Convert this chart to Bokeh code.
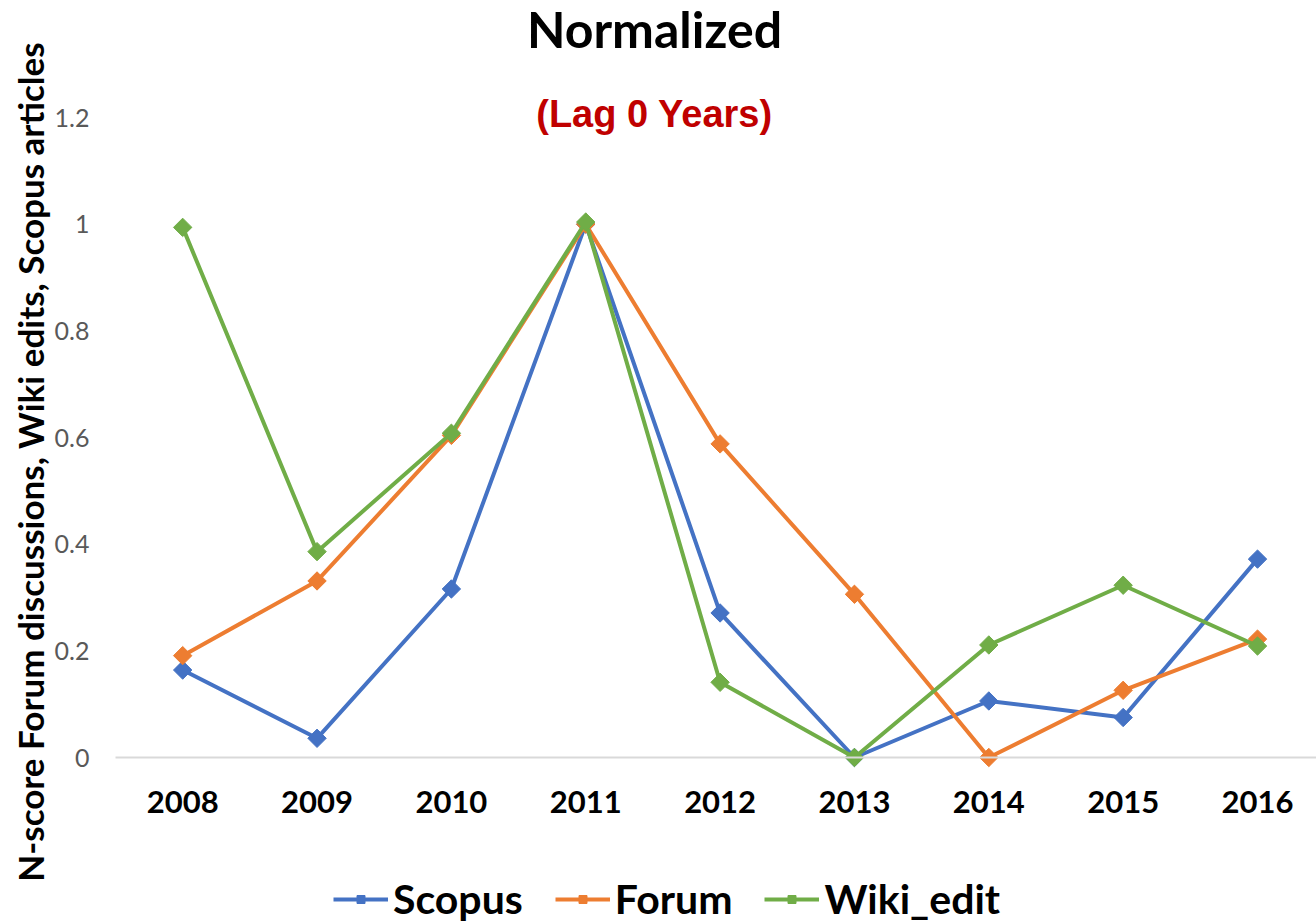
import math
from bokeh.plotting import figure
from bokeh.models import (FixedTicker, Label, Legend, LegendItem, Range1d)
from bokeh.embed import file_html
from bokeh.resources import INLINE

years = [2008, 2009, 2010, 2011, 2012, 2013, 2014, 2015, 2016]
scopus = [0.164, 0.036, 0.316, 1.0, 0.271, 0.0, 0.106, 0.075, 0.372]
forum = [0.191, 0.331, 0.604, 1.0, 0.588, 0.306, 0.0, 0.126, 0.222]
wiki_edit = [0.994, 0.386, 0.608, 1.004, 0.141, 0.0, 0.211, 0.323, 0.209]

series_names = ["Scopus", "Forum", "Wiki_edit"]
series_colors = ["#4472C4", "#ED7D31", "#70AD47"]

y_ticks = [0, 0.2, 0.4, 0.6, 0.8, 1, 1.2]
y_tick_labels = ["0", "0.2", "0.4", "0.6", "0.8", "1", "1.2"]

title_text = "Normalized"
subtitle_text = "(Lag 0 Years)"
y_label_text = "N-score Forum discussions, Wiki edits, Scopus articles"

# plot-area edge in data units (left edge of the category band of 2008)
x_left = 2007.5

p = figure(width=1316, height=923, output_backend="svg", toolbar_location=None,
           x_range=Range1d(2006.644, 2016.439), y_range=Range1d(-0.31125, 1.4194),
           min_border_left=0, min_border_right=0, min_border_top=0,
           min_border_bottom=0)
p.title = None
p.outline_line_color = None
p.xgrid.grid_line_color = None
p.ygrid.grid_line_color = None
p.background_fill_color = "white"
p.border_fill_color = "white"

# x axis drawn on the zero line
p.xaxis.fixed_location = 0
p.xaxis.bounds = (x_left, 2016.439)
p.xaxis.ticker = FixedTicker(ticks=years)
p.xaxis.axis_line_color = "#D9D9D9"
p.xaxis.axis_line_width = 2
p.xaxis.major_tick_line_color = None
p.xaxis.minor_tick_line_color = None
p.xaxis.major_tick_out = 0
p.xaxis.major_tick_in = 0
p.xaxis.major_label_text_font = "Lato"
p.xaxis.major_label_text_font_style = "bold"
p.xaxis.major_label_text_font_size = "31px"
p.xaxis.major_label_text_color = "black"
p.xaxis.major_label_standoff = 33

# y axis at the left edge of the plot area
p.yaxis.fixed_location = x_left
p.yaxis.ticker = FixedTicker(ticks=y_ticks)
p.yaxis.major_label_overrides = {t: l for t, l in zip(y_ticks, y_tick_labels)}
p.yaxis.axis_line_color = None
p.yaxis.major_tick_line_color = None
p.yaxis.minor_tick_line_color = None
p.yaxis.major_tick_out = 0
p.yaxis.major_tick_in = 0
p.yaxis.major_label_text_font = "Lato"
p.yaxis.major_label_text_font_size = "25px"
p.yaxis.major_label_text_color = "#595959"
p.yaxis.major_label_standoff = 26
p.yaxis.axis_label = y_label_text
p.yaxis.axis_label_text_font = "Lato"
p.yaxis.axis_label_text_font_style = "bold"
p.yaxis.axis_label_text_font_size = "35px"
p.yaxis.axis_label_text_color = "black"
p.yaxis.axis_label_standoff = 1

items = []
for name, vals, col in zip(series_names, [scopus, forum, wiki_edit], series_colors):
    ln = p.line(years, vals, line_color=col, line_width=4)
    sc = p.scatter(years, vals, marker="square", angle=math.pi / 4, size=13,
                   fill_color=col, line_color=col)
    items.append(LegendItem(label=name, renderers=[ln, sc]))

legend = Legend(items=items, orientation="horizontal", location=(333, 0),
                glyph_width=55, glyph_height=20, label_standoff=5, spacing=32,
                padding=0, margin=0, border_line_color=None,
                background_fill_alpha=0,
                label_text_font="Lato", label_text_font_style="bold",
                label_text_font_size="41px", label_text_color="black")
p.add_layout(legend)

p.add_layout(Label(x=654, y=895, x_units="screen", y_units="screen",
                   text=title_text, text_align="center", text_baseline="middle",
                   text_font="Lato", text_font_style="bold",
                   text_font_size="50px", text_color="black"))
p.add_layout(Label(x=654, y=810, x_units="screen", y_units="screen",
                   text=subtitle_text, text_align="center", text_baseline="middle",
                   text_font="Liberation Sans", text_font_style="bold",
                   text_font_size="38px", text_color="#C00000"))

open("out.html", "w").write(file_html(p, INLINE))
